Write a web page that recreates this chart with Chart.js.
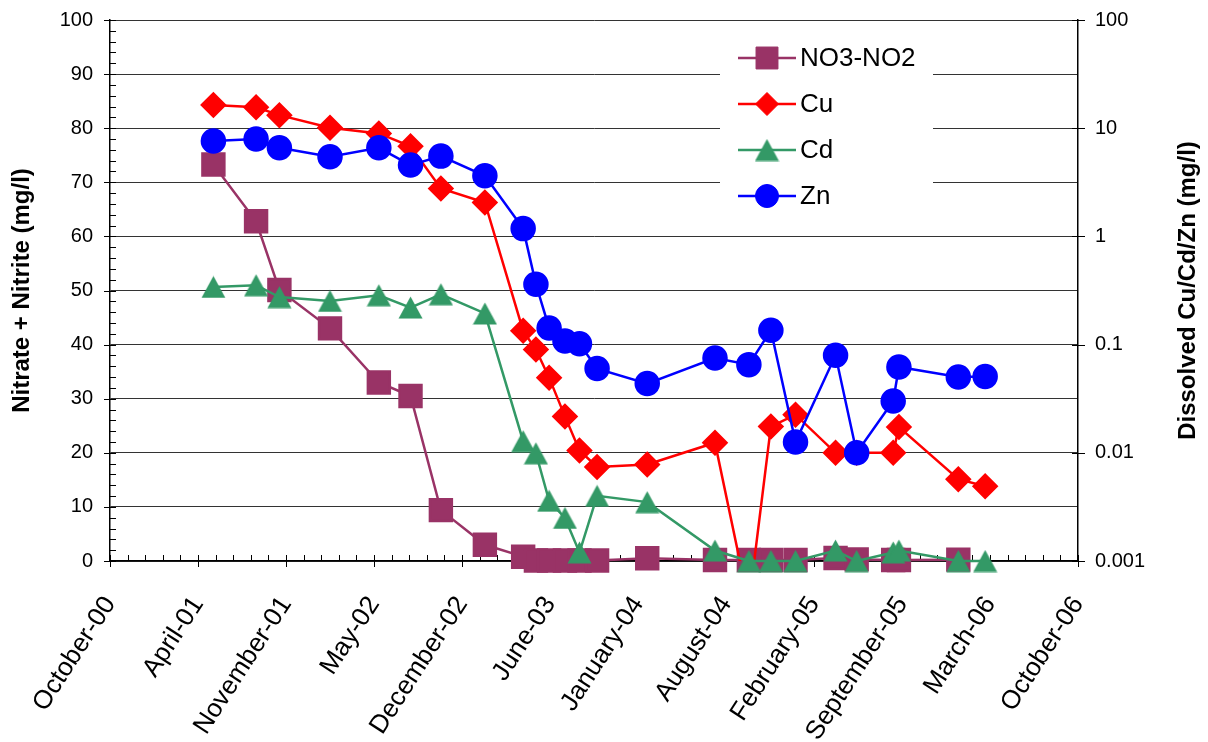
<!DOCTYPE html>
<html>
<head>
    <title>Nitrate and dissolved metals</title>
    <script src="https://cdn.jsdelivr.net/npm/chart.js"></script>
    <style>
        body { margin: 0; background: #fff; }
        #wrap { width: 1208px; height: 742px; }
    </style>
</head>
<body>
    <div id="wrap"><canvas id="chemChart" width="1208" height="742"></canvas></div>
    <script>
        // sampling dates (shared by all four series)
        const sampleDates = ['2001-05-24', '2001-08-29', '2001-10-21', '2002-02-13', '2002-06-04',
            '2002-08-15', '2002-10-23', '2003-01-31', '2003-04-28', '2003-05-27', '2003-06-26',
            '2003-08-01', '2003-09-03', '2003-10-13', '2004-02-04', '2004-07-07', '2004-09-22',
            '2004-11-11', '2005-01-06', '2005-04-07', '2005-05-25', '2005-08-16', '2005-08-29',
            '2006-01-11', '2006-03-13'];

        // nitrate + nitrite, mg/l (left axis)
        const no3no2 = [73.3, 62.8, 50.1, 43.0, 33.0, 30.5, 9.4, 3.0, 0.8, 0.1, 0.1, 0.1, 0.1, 0.1,
            0.5, 0.2, 0.2, 0.2, 0.2, 0.55, 0.3, 0.2, 0.2, 0.25, null];

        // dissolved metals, mg/l (right log axis)
        const cu = [16.4, 15.6, 13.2, 10.1, 8.95, 6.8, 2.77, 2.06, 0.134, 0.09, 0.0495, 0.0217,
            0.0105, 0.0074, 0.0078, 0.0124, 0.0004, 0.0175, 0.0225, 0.01, 0.01, 0.01, 0.0173,
            0.0057, 0.0049];
        const cd = [0.341, 0.354, 0.275, 0.253, 0.286, 0.22, 0.292, 0.194, 0.0128, 0.0099, 0.0036,
            0.0025, 0.0012, 0.004, 0.0035, 0.00125, 0.001, 0.001, 0.001, 0.00125, 0.001, 0.0012,
            0.00125, 0.001, 0.001];
        const zn = [7.6, 7.94, 6.59, 5.44, 6.59, 4.56, 5.52, 3.63, 1.18, 0.361, 0.1425, 0.108,
            0.102, 0.06, 0.0436, 0.0752, 0.0653, 0.1356, 0.01256, 0.0796, 0.01, 0.0301, 0.0621,
            0.0501, 0.0507];

        // axis settings (Excel style serial day numbers)
        const xStart = '2000-10-01';
        const xMajorDays = 200;
        const xMinorDays = 40;
        const xMajorCount = 11;
        const rightTicks = [0.001, 0.01, 0.1, 1, 10, 100];
        const monthNames = ['January', 'February', 'March', 'April', 'May', 'June', 'July',
            'August', 'September', 'October', 'November', 'December'];

        function toSerial(s) {
            const p = s.split('-').map(Number);
            return Date.UTC(p[0], p[1] - 1, p[2]) / 86400000 + 25569;
        }
        function serialLabel(v) {
            const d = new Date((v - 25569) * 86400000);
            return monthNames[d.getUTCMonth()] + '-' + String(d.getUTCFullYear() % 100).padStart(2, '0');
        }
        const xs = sampleDates.map(toSerial);
        const pts = arr => arr.map((v, i) => ({ x: xs[i], y: v }));
        const xMin = toSerial(xStart);
        const xMax = xMin + xMajorDays * xMajorCount;

        // Excel-like triangle marker, centred on its bounding box
        function triangleMarker(color) {
            const c = document.createElement('canvas');
            c.width = 25; c.height = 23;
            const g = c.getContext('2d');
            g.fillStyle = color;
            g.beginPath();
            g.moveTo(12.5, 0.5);
            g.lineTo(24.5, 22.5);
            g.lineTo(0.5, 22.5);
            g.closePath();
            g.fill();
            return c;
        }

        Chart.defaults.font.family = "'Liberation Sans', Arial, sans-serif";
        Chart.defaults.color = '#000';

        // major (crossing) and minor (inside) tick marks
        const tickMarks = {
            id: 'tickMarks',
            beforeDatasetsDraw(chart) {
                const { ctx, scales: { x, y, y2 } } = chart;
                ctx.save();
                ctx.strokeStyle = '#000';
                ctx.lineWidth = 1;
                ctx.beginPath();
                for (let v = xMin; v <= xMax; v += xMinorDays) {
                    const px = Math.round(x.getPixelForValue(v)) + 0.5;
                    const major = (v - xMin) % xMajorDays === 0;
                    ctx.moveTo(px, x.top - 6);
                    ctx.lineTo(px, x.top + (major ? 6 : 0));
                }
                for (let v = 0; v <= 100; v += 2) {
                    const py = Math.round(y.getPixelForValue(v)) + 0.5;
                    ctx.moveTo(y.right - (v % 10 === 0 ? 6 : 0), py);
                    ctx.lineTo(y.right + 6, py);
                }
                rightTicks.forEach(v => {
                    const py = Math.round(y2.getPixelForValue(v)) + 0.5;
                    ctx.moveTo(y2.left - 6, py);
                    ctx.lineTo(y2.left + 7, py);
                });
                ctx.stroke();
                ctx.restore();
            }
        };

        // right axis title reads bottom to top, and the boxed legend inside the plot
        const extras = {
            id: 'extras',
            afterDraw(chart) {
                const { ctx, chartArea } = chart;
                ctx.save();
                ctx.fillStyle = '#000';
                ctx.font = "bold 24px 'Liberation Sans', Arial, sans-serif";
                ctx.translate(1195, (chartArea.top + chartArea.bottom) / 2);
                ctx.rotate(-Math.PI / 2);
                ctx.textAlign = 'center';
                ctx.textBaseline = 'alphabetic';
                ctx.fillText('Dissolved Cu/Cd/Zn (mg/l)', 0, 0);
                ctx.restore();

                ctx.save();
                ctx.fillStyle = '#fff';
                ctx.fillRect(720, 32, 213, 190);
                chart.data.datasets.forEach((ds, i) => {
                    const yy = 58 + i * 46;
                    ctx.strokeStyle = ds.borderColor;
                    ctx.lineWidth = ds.borderWidth;
                    ctx.beginPath();
                    ctx.moveTo(738, yy);
                    ctx.lineTo(796, yy);
                    ctx.stroke();
                    ctx.fillStyle = ds.pointBackgroundColor;
                    ctx.strokeStyle = ds.pointBorderColor;
                    ctx.lineWidth = 1;
                    Chart.helpers.drawPoint(ctx, {
                        pointStyle: ds.pointStyle, radius: ds.pointRadius, rotation: 0, borderWidth: 1
                    }, 767, yy);
                    ctx.fillStyle = '#000';
                    ctx.font = "26px 'Liberation Sans', Arial, sans-serif";
                    ctx.textAlign = 'left';
                    ctx.textBaseline = 'middle';
                    ctx.fillText(ds.label, 800, yy + 1);
                });
                ctx.restore();
            }
        };

        // keep the plot area where the axis widths put it (no extra label padding)
        const noPad = s => { s.paddingTop = 0; s.paddingBottom = 0; };

        const ctx = document.getElementById('chemChart').getContext('2d');
        new Chart(ctx, {
            type: 'line',
            data: {
                datasets: [
                    {
                        label: 'NO3-NO2',
                        data: pts(no3no2),
                        yAxisID: 'y',
                        borderColor: '#993366',
                        backgroundColor: '#993366',
                        pointBackgroundColor: '#993366',
                        pointBorderColor: '#993366',
                        borderWidth: 2.5,
                        pointStyle: 'rect',
                        pointRadius: 15.5,
                        clip: false,
                        order: 4
                    },
                    {
                        label: 'Cu',
                        data: pts(cu),
                        yAxisID: 'y2',
                        borderColor: '#ff0000',
                        backgroundColor: '#ff0000',
                        pointBackgroundColor: '#ff0000',
                        pointBorderColor: '#ff0000',
                        borderWidth: 2.5,
                        pointStyle: 'rectRot',
                        pointRadius: 11.5,
                        order: 3
                    },
                    {
                        label: 'Cd',
                        data: pts(cd),
                        yAxisID: 'y2',
                        borderColor: '#339966',
                        backgroundColor: '#339966',
                        pointBackgroundColor: '#339966',
                        pointBorderColor: '#339966',
                        borderWidth: 2.5,
                        pointStyle: triangleMarker('#339966'),
                        pointRadius: 12,
                        clip: false,
                        order: 2
                    },
                    {
                        label: 'Zn',
                        data: pts(zn),
                        yAxisID: 'y2',
                        borderColor: '#0000ff',
                        backgroundColor: '#0000ff',
                        pointBackgroundColor: '#0000ff',
                        pointBorderColor: '#0000ff',
                        borderWidth: 2.5,
                        pointStyle: 'circle',
                        pointRadius: 11.5,
                        clip: false,
                        order: 1
                    }
                ]
            },
            options: {
                responsive: false,
                animation: false,
                layout: { padding: { top: 20, left: 0, right: 0, bottom: 0 } },
                plugins: {
                    legend: { display: false },
                    tooltip: { enabled: false }
                },
                scales: {
                    x: {
                        type: 'linear',
                        min: xMin,
                        max: xMax,
                        afterBuildTicks: s => {
                            const t = [];
                            for (let v = xMin; v <= xMax; v += xMajorDays) t.push({ value: v });
                            s.ticks = t;
                        },
                        afterFit: s => { s.height = 181; },
                        grid: { display: false, drawTicks: false },
                        border: { display: true, color: '#000', width: 1.5 },
                        ticks: {
                            autoSkip: false,
                            minRotation: 57,
                            maxRotation: 57,
                            padding: 30,
                            font: { size: 26 },
                            callback: v => serialLabel(v)
                        }
                    },
                    y: {
                        position: 'left',
                        min: 0,
                        max: 100,
                        afterFit: s => { s.width = 110; noPad(s); },
                        grid: { color: '#333', lineWidth: 1, drawTicks: false },
                        border: { display: true, color: '#000', width: 1.5 },
                        ticks: { stepSize: 10, padding: 17, font: { size: 20 } },
                        title: {
                            display: true,
                            text: 'Nitrate + Nitrite (mg/l)',
                            font: { size: 24, weight: 'bold' },
                            padding: { top: 8, bottom: 0 }
                        }
                    },
                    y2: {
                        type: 'logarithmic',
                        position: 'right',
                        min: 0.001,
                        max: 100,
                        afterBuildTicks: s => { s.ticks = rightTicks.map(v => ({ value: v })); },
                        afterFit: s => { s.width = 130; noPad(s); },
                        grid: { display: false, drawTicks: false },
                        border: { display: true, color: '#000', width: 1.5 },
                        ticks: {
                            padding: 17,
                            font: { size: 20 },
                            callback: v => String(v)
                        }
                    }
                }
            },
            plugins: [tickMarks, extras]
        });
    </script>
</body>
</html>
